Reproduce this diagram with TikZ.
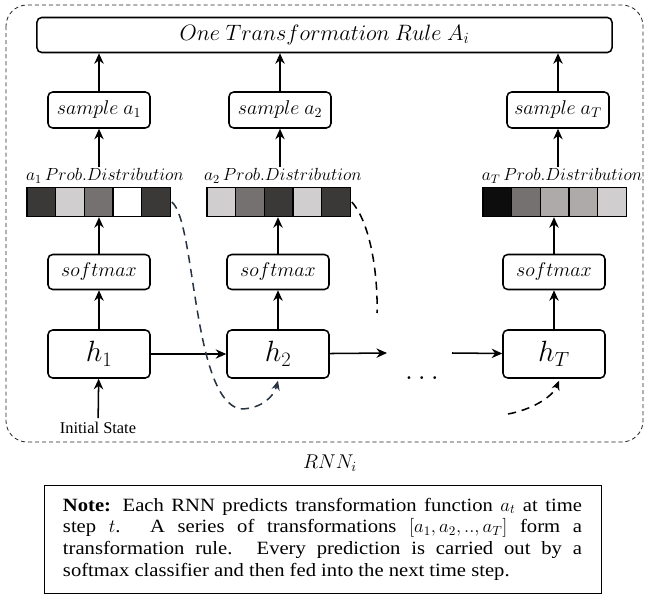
\RequirePackage{fix-cm}
\documentclass[tikz,border=0pt]{standalone}
\usepackage{fontspec}
\setmainfont{Liberation Serif}
\newfontfamily\notefont[FakeStretch=1.1]{Liberation Serif}
\usepackage{tikz}
\usetikzlibrary{arrows.meta,positioning,calc}
\definecolor{cellA}{RGB}{59,56,56}
\definecolor{cellB}{RGB}{208,206,206}
\definecolor{cellC}{RGB}{118,113,113}
\definecolor{cellD}{RGB}{174,170,170}
\definecolor{cellE}{RGB}{13,13,13}
\definecolor{loopcol}{RGB}{40,52,66}

\begin{document}
\begin{tikzpicture}[x=0.03cm,y=-0.03cm,
box/.style={draw,line width=1.3pt,rounded corners=4pt,minimum width=3.06cm,font=\fontsize{17}{20}\selectfont},
hbox/.style={box,minimum height=1.44cm,font=\fontsize{25}{30}\selectfont},
cell/.style={draw,line width=0.9pt,minimum width=0.858cm,minimum height=0.88cm,inner sep=0pt},
arr/.style={line width=1.3pt,-{Stealth[length=9pt,width=8pt]}},
loop/.style={line width=1.3pt,dash pattern=on 7pt off 5pt,-{Stealth[length=8pt,width=7pt]}},
lbl/.style={font=\fontsize{15}{18}\selectfont,inner sep=1pt}]
\useasboundingbox (0,0) rectangle (645,594);
% RNN frame
\draw[black!85,line width=0.7pt,dash pattern=on 3.5pt off 2.5pt,rounded corners=18pt] (6,5) rectangle (643,442);
\node at (330,463) {\fontsize{17}{20}\selectfont$RNN_i$};
% Top rule box
\node[box,minimum width=17.25cm,minimum height=1.05cm,font=\fontsize{19}{22}\selectfont] (rule) at (324.5,35) {$One~Transformation~Rule~A_i$};
% Column 1
\node[box,minimum height=1.08cm] (s1) at (99,110) {$sample~a_1$};
\node[lbl] (p1) at (105,176) {$a_1\,Prob.Distribution$};
\node[cell,fill=cellA] (c11) at (41.3,202) {};
\node[cell,fill=cellB] (c12) at (70,202) {};
\node[cell,fill=cellC] (c13) at (98.7,202) {};
\node[cell,fill=white] (c14) at (127.4,202) {};
\node[cell,fill=cellA] (c15) at (156,202) {};
\node[box,minimum height=1.05cm] (sm1) at (99,272) {$softmax$};
\node[hbox] (h1) at (99,354) {$h_1$};
\node[font=\fontsize{14}{16}\selectfont] (init) at (98,428) {Initial State};
% Column 2
\node[box,minimum height=1.08cm] (s2) at (280,110) {$sample~a_2$};
\node[lbl] (p2) at (283,176) {$a_2\,Prob.Distribution$};
\node[cell,fill=cellB] (c21) at (221.3,202) {};
\node[cell,fill=cellC] (c22) at (250,202) {};
\node[cell,fill=cellA] (c23) at (278.7,202) {};
\node[cell,fill=cellB] (c24) at (307.4,202) {};
\node[cell,fill=cellA] (c25) at (336,202) {};
\node[box,minimum height=1.05cm] (sm2) at (278,272) {$softmax$};
\node[hbox] (h2) at (278,354) {$h_2$};
% Column T
\node[box,minimum height=1.08cm] (sT) at (558,110) {$sample~a_T$};
\node[lbl] (pT) at (562,176) {$a_T\,Prob.Distribution$};
\node[cell,fill=cellE] (cT1) at (497.3,202) {};
\node[cell,fill=cellC] (cT2) at (526,202) {};
\node[cell,fill=cellD] (cT3) at (554.7,202) {};
\node[cell,fill=cellD] (cT4) at (583.4,202) {};
\node[cell,fill=cellB] (cT5) at (612,202) {};
\node[box,minimum height=1.05cm] (smT) at (554,272) {$softmax$};
\node[hbox] (hT) at (554,354) {$h_T$};
\node[font=\fontsize{25}{30}\selectfont] (dots) at (422,378) {$\ldots$};
\coordinate (h2out) at (387,353);
\coordinate (hTin) at (452,353);
% vertical flow
\draw[arr] (s1) -- (s1|-rule.south);
\draw[arr] (s2) -- (s2|-rule.south);
\draw[arr] (sT) -- (sT|-rule.south);
\draw[arr] (s1|-p1.north) -- (s1);
\draw[arr] (s2|-p2.north) -- (s2);
\draw[arr] (sT|-pT.north) -- (sT);
\draw[arr] (sm1) -- (sm1|-c13.south);
\draw[arr] (sm2) -- (sm2|-c23.south);
\draw[arr] (smT) -- (smT|-cT3.south);
\draw[arr] (h1) -- (sm1);
\draw[arr] (h2) -- (sm2);
\draw[arr] (hT) -- (smT);
\draw[arr] (init) -- (h1);
% recurrence
\draw[arr] (h1) -- (h2);
\draw[arr] (h2) -- (h2out);
\draw[arr] (hTin) -- (hT);
% feedback of samples
\coordinate (f1) at (240,409);
\coordinate (f2) at (377,313);
\coordinate (f3) at (508,414);
\draw[loop,draw=loopcol] ($(c15.east)+(1,0)$) .. controls (196,222) and (192,398) .. (f1) .. controls (262,409) and (274,396) .. ($(h2.south)+(0,2)$);
\draw[line width=1.3pt,dash pattern=on 7pt off 5pt] ($(c25.east)+(1,0)$) .. controls (372,225) and (378,280) .. (f2);
\draw[loop] (f3) .. controls (530,410) and (552,398) .. ($(hT.south)+(5,2)$);
% Note
\node[draw,line width=0.8pt,text width=15.57cm,align=justify,inner xsep=0.57cm,inner ysep=6pt,minimum height=3.24cm,font=\notefont\fontsize{16}{18.5}\selectfont] (note) at (322.5,539) {\textbf{Note:} Each RNN predicts transformation function $a_t$ at time\linebreak step $t$. A series of transformations $[a_1,a_2,..,a_T]$ form a\linebreak transformation rule. Every prediction is carried out by a\linebreak softmax classifier and then fed into the next time step.};
\end{tikzpicture}
\end{document}
